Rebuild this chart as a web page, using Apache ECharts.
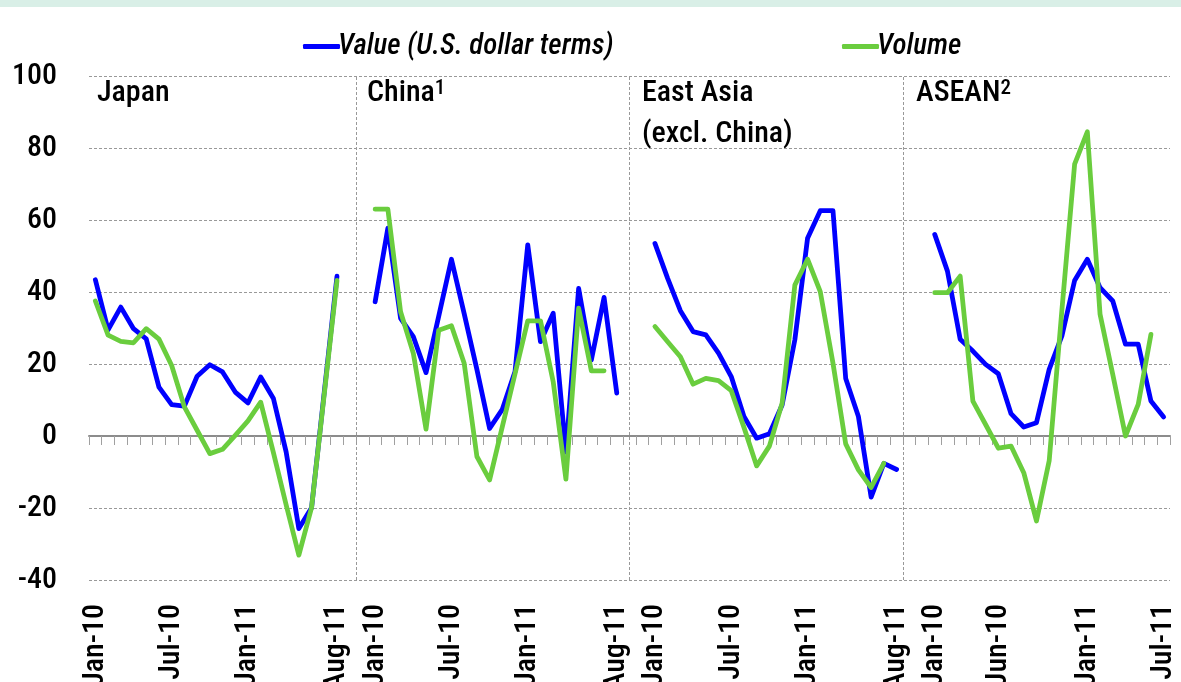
<!DOCTYPE html>
<html><head><meta charset="utf-8">
<script src="https://cdn.jsdelivr.net/npm/echarts@6/dist/echarts.min.js"></script>
<style>html,body{margin:0;padding:0;background:#fff}#chart{width:1181px;height:682px}</style>
</head><body><div id="chart"></div>
<script>
// ---- data ----
const months20 = ['Jan-10','Feb-10','Mar-10','Apr-10','May-10','Jun-10','Jul-10','Aug-10','Sep-10','Oct-10','Nov-10','Dec-10',
                  'Jan-11','Feb-11','Mar-11','Apr-11','May-11','Jun-11','Jul-11','Aug-11'];
const months19 = ['Jan-10','Feb-10','Mar-10','Apr-10','May-10','Jun-10','Jul-10','Aug-10','Sep-10','Oct-10','Nov-10','Dec-10',
                  'Jan-11','Feb-11','Mar-11','Apr-11','May-11','Jun-11','Jul-11'];
const ticksA = ['Jan-10','Jul-10','Jan-11','Aug-11'];
const ticksASEAN = ['Jan-10','Jun-10','Jan-11','Jul-11'];

const japanValue  = [43.4, 29.5, 35.8, 29.8, 27.0, 13.6, 8.7, 8.3, 16.6, 19.8, 17.8, 12.2, 9.2, 16.4, 10.4, -4.4, -25.7, -19.9, 12.2, 44.4];
const japanVolume = [37.5, 28.0, 26.3, 25.9, 29.8, 26.9, 19.6, 8.1, 1.6, -4.9, -3.7, 0.2, 4.2, 9.4, -4.6, -19.1, -33.1, -19.9, 11.7, 43.2];

const chinaValue  = [37.3, 57.7, 32.7, 27.6, 17.6, 33.3, 49.1, 34.0, 18.5, 2.1, 7.4, 17.9, 53.1, 26.2, 34.1, -4.5, 41.0, 21.1, 38.5, 11.9];
const chinaVolume = [63.0, 63.0, 34.5, 23.0, 1.9, 29.4, 30.6, 20.2, -5.7, -12.2, 2.6, 17.3, 32.0, 32.0, 15.1, -12.0, 35.5, 18.1, 18.1, null];

const eastAsiaValue  = [53.5, 43.8, 34.8, 29.0, 28.1, 23.0, 16.5, 5.4, -0.6, 0.6, 8.6, 26.7, 54.9, 62.6, 62.6, 16.0, 5.4, -17.0, -7.6, -9.3];
const eastAsiaVolume = [30.4, 26.2, 22.0, 14.4, 16.0, 15.4, 12.6, 2.4, -8.3, -2.8, 9.1, 41.9, 49.1, 40.1, 20.2, -2.2, -9.4, -14.3, -7.6, null];

const aseanValue  = [56.0, 45.8, 26.9, 23.6, 19.9, 17.3, 6.2, 2.5, 3.7, 18.5, 27.8, 43.2, 49.1, 41.2, 37.5, 25.5, 25.5, 9.7, 5.3];
const aseanVolume = [39.8, 39.8, 44.4, 9.7, 3.2, -3.4, -2.8, -10.2, -23.6, -6.9, 35.0, 75.5, 84.5, 33.8, 17.1, 0.0, 8.8, 28.2, null];

const panelNames = ['Japan', 'China', 'East Asia', 'ASEAN'];
const separators = [21, 42.5, 64];   // panel divider positions, in category units
const GAP = 2;                        // empty categories between panels

// ---- build the category axis ----
const panels = [
  {name: panelNames[0], months: months20, ticks: ticksA, value: japanValue, volume: japanVolume},
  {name: panelNames[1], months: months20, ticks: ticksA, value: chinaValue, volume: chinaVolume},
  {name: panelNames[2], months: months20, ticks: ticksA, value: eastAsiaValue, volume: eastAsiaVolume},
  {name: panelNames[3], months: months19, ticks: ticksASEAN, value: aseanValue, volume: aseanVolume}
];
const categories = [], labelMap = [], valueData = [], volumeData = [];
panels.forEach((p, pi) => {
  p.months.forEach((m, mi) => {
    categories.push(p.name + ' ' + m);
    labelMap.push(p.ticks.includes(m) ? m : '');
    valueData.push(p.value[mi]);
    volumeData.push(p.volume[mi]);
  });
  if (pi < panels.length - 1) {
    for (let g = 0; g < GAP; g++) {
      categories.push('gap ' + pi + '-' + g);
      labelMap.push('');
      valueData.push(null);
      volumeData.push(null);
    }
  }
});

const FONT = "'Roboto Condensed', 'Liberation Sans', sans-serif";
const W = 500;
const BLUE = '#0000ff', GREEN = '#6acd3e', GRID = '#999999';

const chart = echarts.init(document.getElementById('chart'), null, {renderer: 'canvas'});
chart.setOption({
  animation: false,
  backgroundColor: '#ffffff',
  textStyle: {fontFamily: FONT, fontWeight: W},
  grid: {left: 89, right: 11, top: 76, bottom: 102, outerBoundsMode: 'none'},
  legend: [
    {data: ['Value (U.S. dollar terms)'], left: 298, top: 27, icon: 'roundRect', itemWidth: 37, itemHeight: 5, itemGap: 0,
     textStyle: {fontFamily: FONT, fontWeight: W, fontSize: 29, fontStyle: 'italic', color: '#000', padding: [0, 0, 0, -7]}},
    {data: ['Volume'], left: 837, top: 27, icon: 'roundRect', itemWidth: 37, itemHeight: 5, itemGap: 0,
     textStyle: {fontFamily: FONT, fontWeight: W, fontSize: 29, fontStyle: 'italic', color: '#000', padding: [0, 0, 0, -7]}}
  ],
  xAxis: [
    {type: 'category', data: categories, boundaryGap: true, position: 'bottom',
     axisLine: {show: true, onZero: true, lineStyle: {color: '#8c8c8c', width: 2}},
     axisTick: {show: true, interval: 0, length: 9, inside: false, lineStyle: {color: '#a0a0a0', width: 1}},
     axisLabel: {show: false}, splitLine: {show: false}},
    {type: 'category', data: categories, boundaryGap: true, position: 'bottom',
     axisLine: {show: false, onZero: false}, axisTick: {show: false}, splitLine: {show: false},
     axisLabel: {show: true, interval: 0, rotate: 90, margin: 24, fontSize: 30, fontWeight: W, color: '#000', fontFamily: FONT,
                 formatter: (v, i) => labelMap[i]}},
    {type: 'value', min: 0, max: categories.length, show: false, position: 'top'}
  ],
  yAxis: {type: 'value', min: -40, max: 100, interval: 20,
    axisLine: {show: false}, axisTick: {show: false},
    axisLabel: {fontSize: 30, fontWeight: W, color: '#000', margin: 32, fontFamily: FONT},
    splitLine: {show: true, lineStyle: {color: GRID, type: [3, 2], width: 1}}},
  series: [
    {name: 'Value (U.S. dollar terms)', type: 'line', xAxisIndex: 0, data: valueData, symbol: 'none',
     connectNulls: false, lineStyle: {color: BLUE, width: 4.8, cap: 'round', join: 'round'}, itemStyle: {color: BLUE}, z: 3},
    {name: 'Volume', type: 'line', xAxisIndex: 0, data: volumeData, symbol: 'none',
     connectNulls: false, lineStyle: {color: GREEN, width: 4.8, cap: 'round', join: 'round'}, itemStyle: {color: GREEN}, z: 4},
    {name: 'separators', type: 'line', xAxisIndex: 2, data: [[0, null]], symbol: 'none', silent: true,
     markLine: {silent: true, symbol: 'none', label: {show: false},
       lineStyle: {color: GRID, type: [3, 2], width: 1},
       data: separators.map(s => ({xAxis: s}))}}
  ],
  graphic: [
    {type: 'rect', left: 0, top: 0, shape: {width: 1181, height: 7}, style: {fill: '#d9efe7'}, silent: true},
    {type: 'text', left: 97, top: 78, style: {text: 'Japan', font: W + ' 30px ' + FONT, fill: '#000'}},
    {type: 'text', left: 367, top: 78, style: {
      text: '{a|China}{s|1}', fill: '#000',
      rich: {a: {fontSize: 30, fontWeight: W, fontFamily: FONT, color: '#000'}, s: {fontSize: 21, fontWeight: W, fontFamily: FONT, color: '#000', verticalAlign: 'top'}}}},
    {type: 'text', left: 642, top: 78, style: {text: 'East Asia', font: W + ' 30px ' + FONT, fill: '#000'}},
    {type: 'text', left: 642, top: 119, style: {text: '(excl. China)', font: W + ' 30px ' + FONT, fill: '#000'}},
    {type: 'text', left: 916, top: 78, style: {
      text: '{a|ASEAN}{s|2}', fill: '#000',
      rich: {a: {fontSize: 30, fontWeight: W, fontFamily: FONT, color: '#000'}, s: {fontSize: 21, fontWeight: W, fontFamily: FONT, color: '#000', verticalAlign: 'top'}}}}
  ]
});
</script></body></html>
